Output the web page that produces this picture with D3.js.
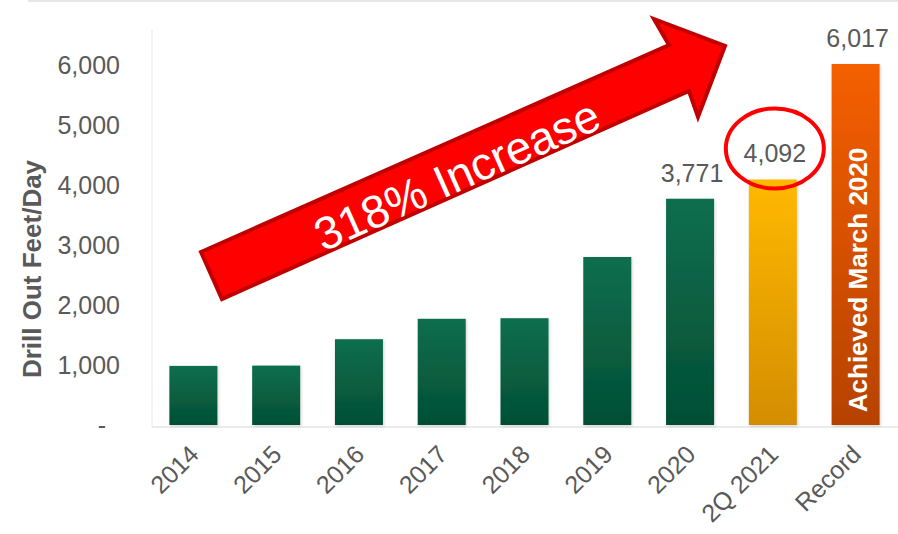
<!doctype html>
<html>
  <head>
    <title>Drill Out Feet/Day</title>
    <style>
      body { margin: 0; background: #fff; }
      svg { display: block; font-family: "Liberation Sans", Arial, sans-serif; }
    </style>
    <script src="https://cdnjs.cloudflare.com/ajax/libs/d3/7.8.5/d3.min.js"></script>
  </head>
  <body>
    <svg id="chart" width="898" height="534"></svg>
    <script>

    var categories = ["2014", "2015", "2016", "2017", "2018", "2019", "2020", "2Q 2021", "Record"];
    var values = [985, 990, 1430, 1770, 1780, 2800, 3771, 4092, 6017];
    var valueLabels = [null, null, null, null, null, null, "3,771", "4,092", "6,017"];
    var yTicks = [0, 1000, 2000, 3000, 4000, 5000, 6000];

    var svg = d3.select("#chart");
    var grey = "#595959";

    var x = d3.scaleBand().domain(categories).range([152, 897]).paddingInner(0.42).paddingOuter(0.21);
    var y = d3.scaleLinear().domain([0, 6000]).range([425, 65]);

    // gradients + shadow
    var defs = svg.append("defs");
    var grads = {
      gradGreen: ["#0c6e4e", "#044f35"],
      gradGold: ["#ffb900", "#d48d00"],
      gradOrange: ["#f55f05", "#b64200"]
    };
    Object.keys(grads).forEach(function(k) {
      var g = defs.append("linearGradient").attr("id", k)
        .attr("x1", 0).attr("y1", 0).attr("x2", 0).attr("y2", 1);
      g.append("stop").attr("offset", "0%").attr("stop-color", grads[k][0]);
      g.append("stop").attr("offset", "100%").attr("stop-color", grads[k][1]);
    });
    defs.append("filter").attr("id", "shadow").attr("x", "-20%").attr("y", "-20%").attr("width", "140%").attr("height", "140%")
      .append("feDropShadow").attr("dx", 1).attr("dy", 1).attr("stdDeviation", 1.5)
      .attr("flood-color", "#000").attr("flood-opacity", 0.18);
    var highlight = { "2Q 2021": "gradGold", "Record": "gradOrange" };

    // faint frame lines
    svg.append("line").attr("x1", 28).attr("x2", 898).attr("y1", 1).attr("y2", 1)
      .attr("stroke", "#e6e6e6").attr("stroke-width", 2);
    svg.append("line").attr("x1", 152).attr("x2", 152).attr("y1", 30).attr("y2", 427)
      .attr("stroke", "#efefef").attr("stroke-width", 1.5);
    svg.append("line").attr("x1", 152).attr("x2", 898).attr("y1", 427).attr("y2", 427)
      .attr("stroke", "#e4e4e4").attr("stroke-width", 1.5);

    // y axis
    var yAxis = svg.append("g").attr("transform", "translate(152,0)")
      .call(d3.axisLeft(y).tickValues(yTicks).tickSize(0).tickPadding(32)
        .tickFormat(function(d) { return d === 0 ? "-\u00a0\u00a0" : d3.format(",")(d); }));
    yAxis.select(".domain").remove();
    yAxis.selectAll("text").attr("font-size", 25).attr("fill", grey).attr("font-family", null);

    svg.append("text")
      .attr("transform", "translate(41,269) rotate(-90)")
      .attr("text-anchor", "middle")
      .attr("font-size", 26).attr("font-weight", "bold").attr("fill", grey)
      .text("Drill Out Feet/Day");

    // x axis
    var xAxis = svg.append("g").attr("transform", "translate(0,425)")
      .call(d3.axisBottom(x).tickSize(0).tickPadding(0));
    xAxis.select(".domain").remove();
    xAxis.selectAll("text")
      .attr("font-size", 25).attr("fill", grey).attr("font-family", null)
      .attr("text-anchor", "end").attr("dy", null).attr("y", 0)
      .attr("transform", "translate(7,31) rotate(-45)");

    // bars
    svg.append("g").selectAll("rect")
      .data(categories)
      .enter().append("rect")
      .attr("x", function(d) { return x(d); })
      .attr("width", x.bandwidth())
      .attr("y", function(d, i) { return y(values[i]); })
      .attr("height", function(d, i) { return y(0) - y(values[i]); })
      .attr("fill", function(d) { return "url(#" + (highlight[d] || "gradGreen") + ")"; })
      .attr("filter", "url(#shadow)");

    // value labels
    svg.append("g").selectAll("text")
      .data(categories.filter(function(d, i) { return valueLabels[i]; }))
      .enter().append("text")
      .attr("x", function(d) { return x(d) + x.bandwidth() / 2 + 2; })
      .attr("y", function(d) { return y(values[categories.indexOf(d)]) - 17; })
      .attr("text-anchor", "middle")
      .attr("font-size", 25).attr("fill", grey)
      .text(function(d) { return valueLabels[categories.indexOf(d)]; });

    // red circle around 2Q 2021 label
    var qi = categories.indexOf("2Q 2021");
    svg.append("ellipse")
      .attr("cx", x("2Q 2021") + x.bandwidth() / 2 + 2)
      .attr("cy", y(values[qi]) - 31)
      .attr("rx", 49).attr("ry", 40)
      .attr("fill", "none").attr("stroke", "#ff0000").attr("stroke-width", 4);

    // text inside record bar
    svg.append("text")
      .attr("transform", "translate(" + (x("Record") + x.bandwidth() / 2 + 11) + ",280) rotate(-90)")
      .attr("text-anchor", "middle")
      .attr("font-size", 26).attr("font-weight", "bold").attr("fill", "#fff")
      .text("Achieved March 2020");

    // big arrow
    var arrow = [[201, 252], [669, 45], [654, 19], [725, 46], [698, 117], [689, 91], [222, 299]];
    svg.append("polygon")
      .attr("points", arrow.map(function(p) { return p.join(","); }).join(" "))
      .attr("fill", "#ff0000").attr("stroke", "#c00000").attr("stroke-width", 4)
      .attr("stroke-linejoin", "miter");

    svg.append("text")
      .attr("transform", "translate(457,175) rotate(-24)")
      .attr("text-anchor", "middle").attr("dominant-baseline", "central")
      .attr("font-size", 46).attr("fill", "#fff")
      .text("318% Increase");

  </script>
  </body>
</html>
